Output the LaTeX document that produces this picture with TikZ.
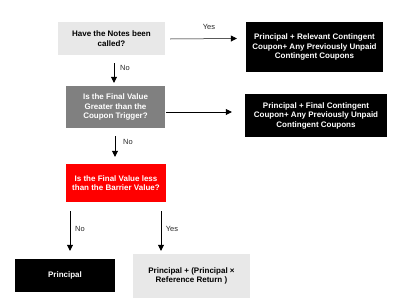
\documentclass[tikz,border=0pt]{standalone}
\usepackage{fontspec}
\setmainfont{Liberation Sans}
\usetikzlibrary{arrows.meta}
\definecolor{lightbox}{HTML}{E8E8E8}
\definecolor{darkbox}{HTML}{808080}
\definecolor{redbox}{HTML}{FF0000}
\tikzset{
  box/.style={inner sep=1pt, align=center, font=\fontsize{8}{9.5}\selectfont\bfseries},
  lightstyle/.style={box, fill=lightbox, text=black},
  darkstyle/.style={box, fill=darkbox, text=white},
  redstyle/.style={box, fill=redbox, text=white},
  blackstyle/.style={box, fill=black, text=white},
  arr/.style={draw=black, line width=0.5pt, -{Triangle[length=6pt,width=6pt]}},
  lbl/.style={font=\fontsize{7.5}{9}\selectfont, text=black!85, inner sep=0pt}
}
\begin{document}
\begin{tikzpicture}[x=1pt,y=-1pt]
\useasboundingbox (0,0) rectangle (397,308);
\node[lightstyle, minimum width=107pt, minimum height=33pt] (b1) at (111.5,38.5) {Have the Notes been\\called?};
\node[blackstyle, minimum width=137pt, minimum height=50pt] (b2) at (314.5,47) {Principal + Relevant Contingent\\Coupon+ Any Previously Unpaid\\Contingent Coupons};
\node[darkstyle, minimum width=99pt, minimum height=42pt] (b3) at (115.5,107) {Is the Final Value\\Greater than the\\Coupon Trigger?};
\node[blackstyle, minimum width=142pt, minimum height=43pt] (b4) at (316,115.5) {Principal + Final Contingent\\Coupon+ Any Previously Unpaid\\Contingent Coupons};
\node[redstyle, minimum width=100pt, minimum height=38pt] (b5) at (116,183) {Is the Final Value less\\than the Barrier Value?};
\node[blackstyle, minimum width=100pt, minimum height=33pt] (b6) at (65,275.5) {Principal};
\node[lightstyle, minimum width=117pt, minimum height=44pt] (b7) at (191.5,276) {Principal + (Principal ×\\Reference Return )};

\draw[arr] ([xshift=5pt,yshift=-0.5pt]b1.east) -- ([xshift=-9pt]b1.east -| b2.west);
\draw[arr] ([xshift=1pt,yshift=-5pt]b3.east) -- ([xshift=-13pt,yshift=-5pt]b3.east -| b4.west);
\draw[arr] ([xshift=2.5pt,yshift=-8pt]b1.south) -- ([xshift=-1.5pt,yshift=3pt]b3.north);
\draw[arr] ([xshift=-0.5pt,yshift=-8pt]b3.south) -- ([xshift=-1pt,yshift=7pt]b5.north);
\draw[arr] ([xshift=-46pt,yshift=-9pt]b5.south) -- ([xshift=5pt,yshift=8pt]b6.north);
\draw[arr] ([xshift=45pt,yshift=-9pt]b5.south) -- ([xshift=-30.5pt,yshift=3pt]b7.north);

\node[lbl] (yes1) at (209,27) {Yes};
\node[lbl] (no1) at (125,68) {No};
\node[lbl] (no2) at (128,142) {No};
\node[lbl] (no3) at (80,229) {No};
\node[lbl] (yes2) at (172,229) {Yes};
\end{tikzpicture}
\end{document}
